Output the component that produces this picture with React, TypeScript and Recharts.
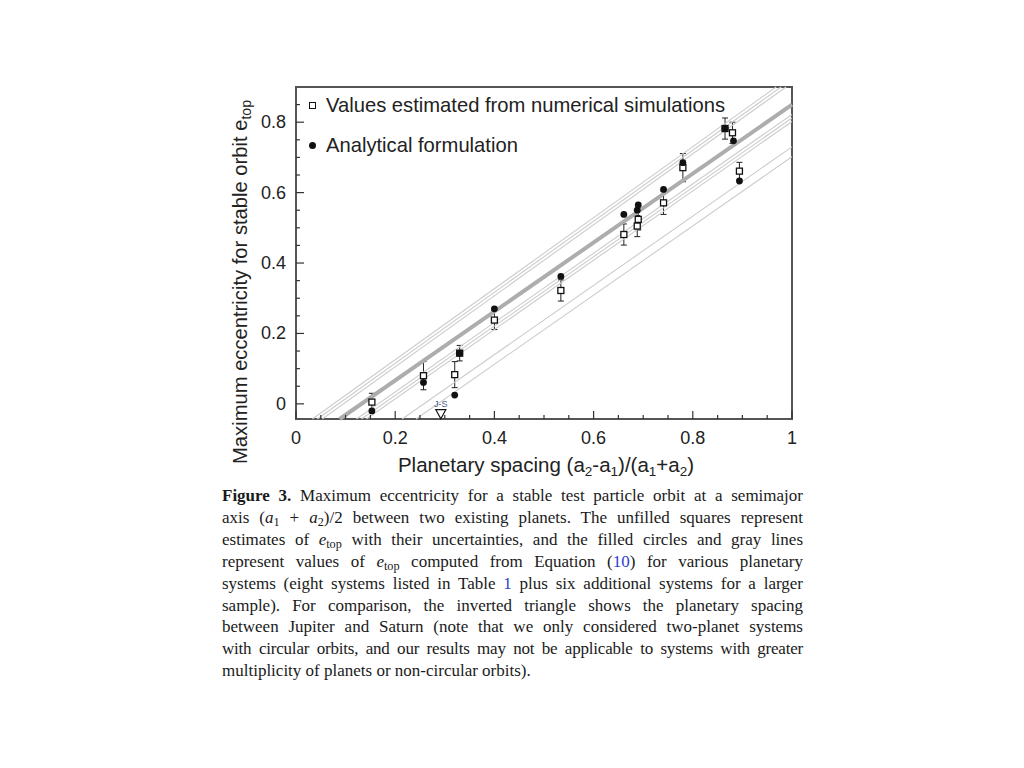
import { ComposedChart, Scatter, XAxis, YAxis, ErrorBar, ReferenceArea, Label } from "recharts";

// numerical estimates (open squares) with uncertainties
const numSpacing = [0.153, 0.257, 0.32, 0.33, 0.4, 0.534, 0.661, 0.688, 0.69, 0.741, 0.78, 0.865, 0.88, 0.894];
const numEtop = [0.005, 0.08, 0.083, 0.144, 0.238, 0.322, 0.481, 0.505, 0.524, 0.571, 0.671, 0.782, 0.77, 0.661];
const numErr = [0.025, 0.04, 0.037, 0.022, 0.027, 0.03, 0.03, 0.03, 0.03, 0.033, 0.04, 0.03, 0.03, 0.025];

// analytical formulation (filled circles)
const anaSpacing = [0.153, 0.257, 0.32, 0.33, 0.4, 0.534, 0.661, 0.688, 0.69, 0.741, 0.78, 0.865, 0.882, 0.894];
const anaEtop = [-0.02, 0.061, 0.025, 0.144, 0.27, 0.362, 0.538, 0.55, 0.565, 0.609, 0.685, 0.782, 0.747, 0.633];

// gray lines from Equation (10): start on the bottom edge, end on top/right edge
const lineStartX = [0.033, 0.043, 0.053, 0.088, 0.122, 0.132, 0.142, 0.214, 0.242];
const lineEndX = [0.968, 0.978, 0.988, 1, 1, 1, 1, 1, 1];
const lineEndE = [0.9, 0.9, 0.9, 0.85, 0.822, 0.812, 0.802, 0.73, 0.702];
const lineThick = [false, false, false, true, false, false, false, false, false];

// Jupiter-Saturn marker
const jsSpacing = [0.292];
const jsEtop = [-0.028];
const jsLabel = ["J-S"];

const xTicks = [0, 0.05, 0.1, 0.15, 0.2, 0.25, 0.3, 0.35, 0.4, 0.45, 0.5, 0.55, 0.6, 0.65, 0.7, 0.75, 0.8, 0.85, 0.9, 0.95, 1];
const yTicks = [0, 0.05, 0.1, 0.15, 0.2, 0.25, 0.3, 0.35, 0.4, 0.45, 0.5, 0.55, 0.6, 0.65, 0.7, 0.75, 0.8, 0.85];
const xLabels = ["0", "0.2", "0.4", "0.6", "0.8", "1"];
const yLabels = ["0", "0.2", "0.4", "0.6", "0.8"];

const Y_MIN = -0.043;
const Y_MAX = 0.9;

const numData = numSpacing.map((x, i) => ({ x, y: numEtop[i], err: numErr[i] }));
const anaData = anaSpacing.map((x, i) => ({ x, y: anaEtop[i] }));
const jsData = jsSpacing.map((x, i) => ({ x, y: jsEtop[i], name: jsLabel[i] }));
const lines = lineStartX.map((x, i) => ({
  thick: lineThick[i],
  data: [{ x, y: Y_MIN }, { x: lineEndX[i], y: lineEndE[i] }],
}));

const sans = "'Liberation Sans', Arial, Helvetica, sans-serif";
const ink = "#222";

function XTick(props: any) {
  const { x, y, payload } = props;
  const label = String(payload.value);
  const major = xLabels.includes(label);
  return (
    <g>
      <line x1={x} x2={x} y1={y} y2={y - (major ? 8 : 4)} stroke="#333" strokeWidth={1.2} />
      {major && (
        <text x={x} y={y + 25} textAnchor="middle" fontFamily={sans} fontSize={18} fill={ink}>
          {label}
        </text>
      )}
    </g>
  );
}

function YTick(props: any) {
  const { x, y, payload } = props;
  const label = String(payload.value);
  const major = yLabels.includes(label);
  return (
    <g>
      <line x1={x} x2={x + (major ? 8 : 4)} y1={y} y2={y} stroke="#333" strokeWidth={1.2} />
      {major && (
        <text x={x - 10} y={y + 6} textAnchor="end" fontFamily={sans} fontSize={18} fill={ink}>
          {label}
        </text>
      )}
    </g>
  );
}

const OpenSquare = (p: any) => (
  <rect x={p.cx - 3} y={p.cy - 3} width={6} height={6} fill="#fff" stroke="#111" strokeWidth={1.3} />
);
const Dot = (p: any) => <circle cx={p.cx} cy={p.cy} r={3.4} fill="#111" />;
const NoShape = () => <g />;
const Triangle = (p: any) => (
  <g>
    <polygon
      points={`${p.cx - 5},${p.cy - 4} ${p.cx + 5},${p.cy - 4} ${p.cx},${p.cy + 5}`}
      fill="#fff"
      stroke="#111"
      strokeWidth={1.2}
    />
    <text x={p.cx} y={p.cy - 7} textAnchor="middle" fontFamily={sans} fontSize={9} fill="#4d5a85">
      {p.payload.name}
    </text>
  </g>
);

const blue = { color: "#2a3fd0" };
const sub = { fontSize: "0.72em", verticalAlign: "-0.28em", lineHeight: 0 };
const capLine = { textAlign: "justify" as const, textAlignLast: "justify" as const, whiteSpace: "nowrap" as const };

export default function App() {
  return (
    <div style={{ position: "absolute", left: 0, top: 0, width: 1024, height: 768, background: "#fff" }}>
      <ComposedChart width={820} height={500} margin={{ top: 87, right: 28, bottom: 51, left: 236 }}>
        <XAxis
          type="number"
          dataKey="x"
          domain={[0, 1]}
          ticks={xTicks}
          interval={0}
          axisLine={false}
          tickLine={false}
          tickSize={0}
          tickMargin={0}
          height={30}
          tick={<XTick />}
        >
          <Label
            content={() => (
              <text x={546} y={472} textAnchor="middle" fontFamily={sans} fontSize={20.5} fill={ink}>
                Planetary spacing (a<tspan dy={4} fontSize={13.5}>2</tspan>
                <tspan dy={-4}>-a</tspan>
                <tspan dy={4} fontSize={13.5}>1</tspan>
                <tspan dy={-4}>)/(a</tspan>
                <tspan dy={4} fontSize={13.5}>1</tspan>
                <tspan dy={-4}>+a</tspan>
                <tspan dy={4} fontSize={13.5}>2</tspan>
                <tspan dy={-4}>)</tspan>
              </text>
            )}
          />
        </XAxis>
        <YAxis
          type="number"
          dataKey="y"
          domain={[Y_MIN, Y_MAX]}
          ticks={yTicks}
          interval={0}
          axisLine={false}
          tickLine={false}
          tickSize={0}
          tickMargin={0}
          width={60}
          tick={<YTick />}
        >
          <Label
            content={() => (
              <text
                x={247}
                y={282}
                transform="rotate(-90 247 282)"
                textAnchor="middle"
                fontFamily={sans}
                fontSize={20.2}
                fill={ink}
              >
                Maximum eccentricity for stable orbit e<tspan dy={4} fontSize={14}>top</tspan>
              </text>
            )}
          />
        </YAxis>
        <ReferenceArea
          x1={0}
          x2={1}
          y1={Y_MIN}
          y2={Y_MAX}
          fill="none"
          stroke="#555"
          strokeWidth={2}
          ifOverflow="visible"
        />
        {lines.map((l, i) => (
          <Scatter
            key={i}
            data={l.data}
            line={{ stroke: l.thick ? "#adadad" : "#cdcdcd", strokeWidth: l.thick ? 4 : 1.1 }}
            lineType="joint"
            shape={NoShape}
            isAnimationActive={false}
          />
        ))}
        <Scatter data={numData} shape={OpenSquare} isAnimationActive={false}>
          <ErrorBar dataKey="err" direction="y" width={3} stroke="#222" strokeWidth={1} />
        </Scatter>
        <Scatter data={anaData} shape={Dot} isAnimationActive={false} />
        <Scatter data={jsData} shape={Triangle} isAnimationActive={false} />
      </ComposedChart>

      <div style={{ position: "absolute", left: 309, top: 94, fontFamily: sans, fontSize: 20.2, color: ink, lineHeight: "22px" }}>
        <span style={{ display: "inline-block", width: 5, height: 5, border: "1.3px solid #111", marginRight: 10, verticalAlign: "3px" }} />
        Values estimated from numerical simulations
      </div>
      <div style={{ position: "absolute", left: 309, top: 134, fontFamily: sans, fontSize: 20.2, color: ink, lineHeight: "22px" }}>
        <span style={{ display: "inline-block", width: 7, height: 7, borderRadius: "50%", background: "#111", marginRight: 10, verticalAlign: "3px" }} />
        Analytical formulation
      </div>

      <div
        style={{
          position: "absolute",
          left: 222,
          top: 485,
          width: 581,
          fontFamily: "'Liberation Serif', 'Times New Roman', serif",
          fontSize: 17,
          lineHeight: "21.9px",
          color: "#1a1a1a",
        }}
      >
        <div style={capLine}>
          <b>Figure 3.</b> Maximum eccentricity for a stable test particle orbit at a semimajor
        </div>
        <div style={capLine}>
          axis (<i>a</i>
          <span style={sub}>1</span> + <i>a</i>
          <span style={sub}>2</span>)/2 between two existing planets. The unfilled squares represent
        </div>
        <div style={capLine}>
          estimates of <i>e</i>
          <span style={sub}>top</span> with their uncertainties, and the filled circles and gray lines
        </div>
        <div style={capLine}>
          represent values of <i>e</i>
          <span style={sub}>top</span> computed from Equation (<span style={blue}>10</span>) for various planetary
        </div>
        <div style={capLine}>
          systems (eight systems listed in Table <span style={blue}>1</span> plus six additional systems for a larger
        </div>
        <div style={capLine}>sample). For comparison, the inverted triangle shows the planetary spacing</div>
        <div style={capLine}>between Jupiter and Saturn (note that we only considered two-planet systems</div>
        <div style={{ ...capLine, letterSpacing: "-0.2px" }}>
          with circular orbits, and our results may not be applicable to systems with greater
        </div>
        <div>multiplicity of planets or non-circular orbits).</div>
      </div>
    </div>
  );
}
